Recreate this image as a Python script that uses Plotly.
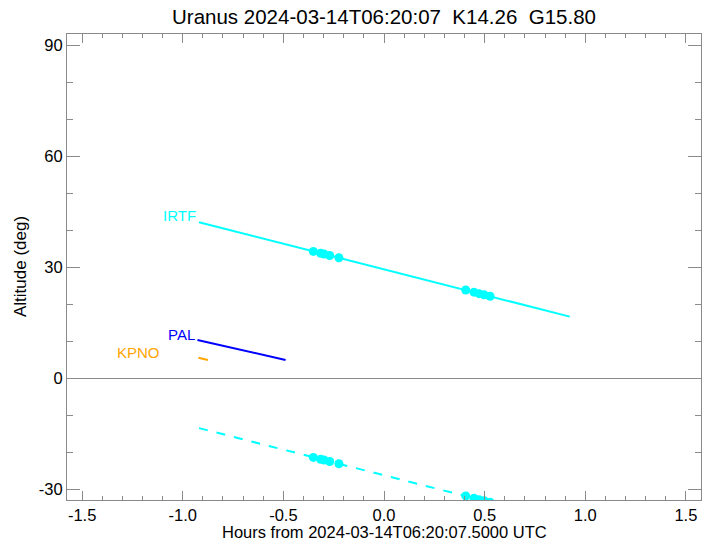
import plotly.graph_objects as go

# ---- data ----
irtf_hours = [-0.919, 0.923]
irtf_alt = [42.2, 16.7]

irtf_low_hours = [-0.919, 0.923]
irtf_low_alt = [-13.4, -38.9]

obs_hours = [-0.351, -0.315, -0.298, -0.270, -0.224, 0.406, 0.447, 0.472, 0.497, 0.527]
obs_alt = [34.3, 33.8, 33.6, 33.2, 32.6, 23.9, 23.3, 22.9, 22.6, 22.2]
obs_low_alt = [-21.3, -21.8, -22.0, -22.4, -23.0, -31.7, -32.3, -32.7, -33.0, -33.4]

pal_hours = [-0.927, -0.489]
pal_alt = [10.4, 5.0]

kpno_hours = [-0.922, -0.875]
kpno_alt = [5.6, 5.0]

labels = ["IRTF", "PAL", "KPNO"]
label_hours = [-0.925, -0.927, -1.105]
label_alt = [43.9, 11.9, 7.0]
label_colors = ["#00FFFF", "#0000FF", "#FFA500"]

x_ticks = [-1.5, -1.0, -0.5, 0.0, 0.5, 1.0, 1.5]
y_ticks = [-30, 0, 30, 60, 90]

title = "Uranus 2024-03-14T06:20:07\u00a0\u00a0K14.26\u00a0\u00a0G15.80"
xtitle = "Hours from 2024-03-14T06:20:07.5000 UTC"
ytitle = "Altitude (deg)"

FONT = "Liberation Sans, Arial, Helvetica, sans-serif"
AXC = "#8a8a8a"
W, H = 710, 544
ML, MR, MT, MB = 67, 9, 34, 44
PW, PH = W - ML - MR, H - MT - MB

fig = go.Figure()
fig.add_trace(go.Scatter(x=irtf_hours, y=irtf_alt, mode="lines",
                         line=dict(color="#00FFFF", width=2), showlegend=False))
fig.add_trace(go.Scatter(x=irtf_low_hours, y=irtf_low_alt, mode="lines",
                         line=dict(color="#00FFFF", width=2, dash="dash"), showlegend=False))
fig.add_trace(go.Scatter(x=obs_hours, y=obs_alt, mode="markers",
                         marker=dict(color="#00FFFF", size=9), showlegend=False))
fig.add_trace(go.Scatter(x=obs_hours, y=obs_low_alt, mode="markers",
                         marker=dict(color="#00FFFF", size=9), showlegend=False))
fig.add_trace(go.Scatter(x=pal_hours, y=pal_alt, mode="lines",
                         line=dict(color="#0000FF", width=2), showlegend=False))
fig.add_trace(go.Scatter(x=kpno_hours, y=kpno_alt, mode="lines",
                         line=dict(color="#FFA500", width=2), showlegend=False))

for t, xh, ya, c in zip(labels, label_hours, label_alt, label_colors):
    fig.add_annotation(x=xh, y=ya, text=t, showarrow=False, xanchor="right",
                       yanchor="middle", font=dict(color=c, size=15, family=FONT))

# axis titles as paper annotations (fixed placement)
fig.add_annotation(xref="paper", yref="paper", x=0.5, y=-(532 - (MT + PH)) / PH,
                   text=xtitle, showarrow=False, xanchor="center", yanchor="middle",
                   font=dict(size=16.5, color="black", family=FONT))
fig.add_annotation(xref="paper", yref="paper", x=(20 - ML) / PW, y=0.5,
                   text=ytitle, showarrow=False, xanchor="center", yanchor="middle",
                   textangle=-90, font=dict(size=17, color="black", family=FONT))

fig.update_layout(
    width=W, height=H,
    margin=dict(l=ML, r=MR, t=MT, b=MB, autoexpand=False),
    paper_bgcolor="white", plot_bgcolor="white",
    font=dict(family=FONT, size=16, color="black"),
    title=dict(text=title, x=0.5, xref="paper", y=1 - 17 / H, yref="container",
               xanchor="center", yanchor="middle", font=dict(size=20.5, color="black")),
)
fig.update_xaxes(
    range=[-1.575, 1.575], tickvals=x_ticks, ticktext=[f"{v:.1f}" for v in x_ticks],
    ticks="inside", ticklen=9, tickcolor=AXC, tickwidth=1,
    minor=dict(dtick=0.1, ticks="inside", ticklen=4, tickcolor=AXC, showgrid=False),
    showline=True, linecolor=AXC, linewidth=1, mirror="ticks",
    showgrid=False, zeroline=False, automargin=False,
    tickfont=dict(size=16.5),
)
fig.update_yaxes(
    range=[-32.8, 93], tickvals=y_ticks, ticktext=[str(v) for v in y_ticks],
    ticks="inside", ticklen=13, tickcolor=AXC, tickwidth=1,
    minor=dict(dtick=10, ticks="inside", ticklen=6, tickcolor=AXC, showgrid=False),
    showline=True, linecolor=AXC, linewidth=1, mirror="ticks",
    showgrid=False, zeroline=True, zerolinecolor=AXC, zerolinewidth=1,
    automargin=False, tickfont=dict(size=16.5),
)

fig.write_html("out.html", config={"displayModeBar": False},
               post_script="document.body.style.margin='0';document.body.style.overflow='hidden';")
